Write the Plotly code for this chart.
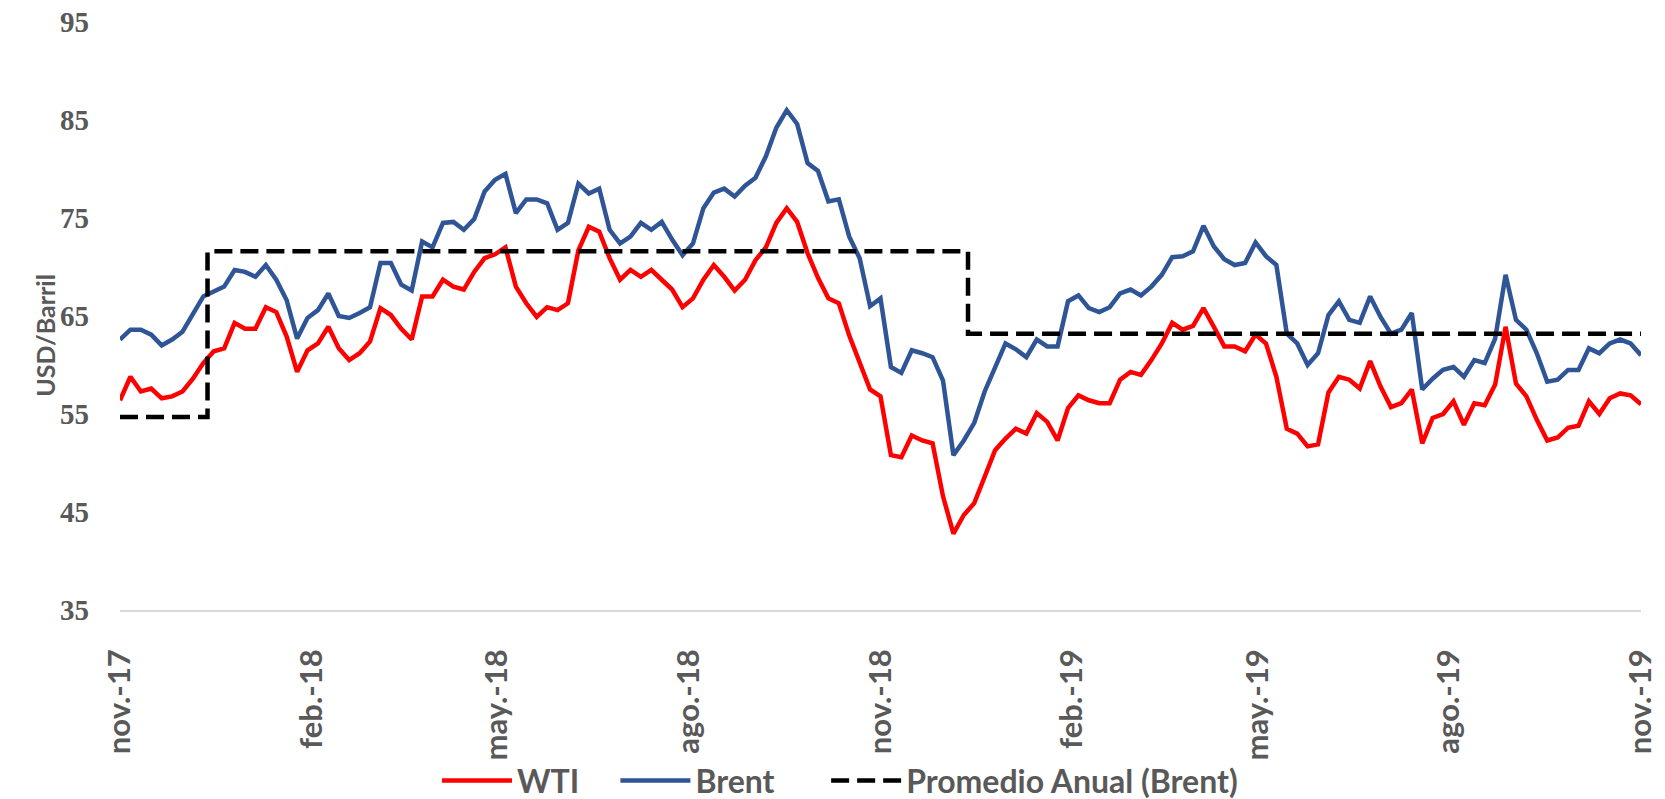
import pandas as pd
import plotly.graph_objects as go

# Sample dates (every 5 days, nov-2017 .. nov-2019)
dates = pd.date_range("2017-11-01", periods=147, freq="5D")

brent = [
    62.6, 63.6, 63.6, 63.1, 62.0, 62.6, 63.4, 65.3, 67.0, 67.5,
    68.0, 69.7, 69.5, 69.0, 70.2, 68.7, 66.6, 62.7, 64.8, 65.6,
    67.3, 65.0, 64.8, 65.3, 65.9, 70.4, 70.4, 68.2, 67.6, 72.6,
    72.0, 74.5, 74.6, 73.8, 74.9, 77.7, 78.9, 79.5, 75.5, 76.9,
    76.9, 76.5, 73.8, 74.5, 78.5, 77.5, 78.0, 73.8, 72.4, 73.1,
    74.5, 73.8, 74.6, 72.8, 71.2, 72.4, 76.0, 77.6, 78.0, 77.2,
    78.3, 79.1, 81.3, 84.2, 86.0, 84.6, 80.6, 79.8, 76.7, 76.9,
    73.1, 70.9, 66.0, 66.8, 59.8, 59.2, 61.5, 61.2, 60.8, 58.4,
    50.8, 52.3, 54.1, 57.3, 59.8, 62.2, 61.6, 60.8, 62.6, 61.9,
    61.9, 66.5, 67.1, 65.8, 65.4, 65.9, 67.3, 67.7, 67.1, 68.0,
    69.2, 71.0, 71.1, 71.6, 74.2, 72.1, 70.8, 70.2, 70.4, 72.5,
    71.1, 70.2, 63.2, 62.2, 60.0, 61.2, 65.1, 66.5, 64.6, 64.3,
    67.0, 64.9, 63.2, 63.6, 65.3, 57.5, 58.6, 59.5, 59.8, 58.8,
    60.5, 60.2, 62.7, 69.2, 64.6, 63.6, 61.2, 58.3, 58.5, 59.5,
    59.5, 61.7, 61.2, 62.2, 62.6, 62.2, 61.0,
]

wti = [
    56.4, 58.8, 57.3, 57.6, 56.6, 56.8, 57.3, 58.6, 60.2, 61.4,
    61.7, 64.3, 63.7, 63.7, 65.9, 65.4, 62.9, 59.3, 61.5, 62.2,
    63.9, 61.7, 60.5, 61.2, 62.4, 65.8, 65.1, 63.7, 62.6, 67.0,
    67.0, 68.7, 68.0, 67.7, 69.5, 70.9, 71.3, 72.0, 68.0, 66.3,
    64.9, 65.9, 65.6, 66.3, 71.7, 74.1, 73.6, 70.9, 68.7, 69.7,
    69.0, 69.7, 68.7, 67.7, 65.9, 66.8, 68.7, 70.2, 69.0, 67.6,
    68.7, 70.7, 72.0, 74.5, 76.0, 74.6, 71.4, 68.9, 66.8, 66.3,
    63.0, 60.4, 57.5, 56.8, 50.8, 50.6, 52.8, 52.3, 52.0, 46.6,
    42.8, 44.7, 45.9, 48.6, 51.3, 52.5, 53.5, 53.0, 55.1, 54.2,
    52.3, 55.6, 56.9, 56.4, 56.1, 56.1, 58.5, 59.3, 59.0, 60.5,
    62.2, 64.3, 63.6, 64.0, 65.8, 63.9, 61.9, 61.9, 61.4, 63.1,
    62.2, 58.8, 53.5, 53.0, 51.7, 51.9, 57.2, 58.8, 58.5, 57.6,
    60.4, 57.8, 55.7, 56.1, 57.5, 52.0, 54.6, 55.0, 56.3, 53.9,
    56.1, 55.9, 58.0, 63.9, 58.1, 56.8, 54.4, 52.3, 52.6, 53.6,
    53.8, 56.3, 55.0, 56.6, 57.1, 56.9, 56.0,
]

# Annual average of Brent (step line)
avg_dates = ["2017-11-01", "2017-12-13", "2018-12-13", "2019-11-01"]
avg_values = [54.7, 71.6, 63.2, 63.2]

tick_dates = ["2017-11-01", "2018-02-01", "2018-05-01", "2018-08-01", "2018-11-01",
              "2019-02-01", "2019-05-01", "2019-08-01", "2019-11-01"]
tick_labels = ["nov.-17", "feb.-18", "may.-18", "ago.-18", "nov.-18",
               "feb.-19", "may.-19", "ago.-19", "nov.-19"]

GRAY = "#595959"
NB = "\u00a0"

fig = go.Figure()
fig.add_trace(go.Scatter(x=dates, y=wti, name="WTI" + NB * 4, mode="lines",
                         line=dict(color="#FF0000", width=4.5)))
fig.add_trace(go.Scatter(x=dates, y=brent, name="Brent" + NB * 6, mode="lines",
                         line=dict(color="#2F5597", width=4.5)))
fig.add_trace(go.Scatter(x=avg_dates, y=avg_values, name="Promedio Anual (Brent)",
                         mode="lines", line=dict(color="black", width=4.5, dash="18px,8px", shape="hv")))

fig.update_layout(
    width=1665, height=799,
    margin=dict(l=120, r=24, t=22, b=189, autoexpand=False),
    paper_bgcolor="white", plot_bgcolor="white",
    showlegend=True,
    legend=dict(orientation="h", x=0.2084, xanchor="left", y=-0.337, yanchor="bottom",
                font=dict(family="Lato", size=32, color=GRAY, weight="bold"),
                itemwidth=70, bgcolor="rgba(0,0,0,0)"),
    annotations=[dict(text="<b>USD/Barril</b>", xref="paper", yref="paper",
                      x=-0.0605, y=0.468, textangle=-90, showarrow=False,
                      font=dict(family="Lato", size=25, color=GRAY))],
)

fig.update_xaxes(type="date", range=["2017-11-01", "2019-11-01"],
                 tickvals=tick_dates, ticktext=tick_labels, tickangle=-90,
                 tickfont=dict(family="Lato", size=31, color=GRAY, weight="bold"),
                 showgrid=False, showline=True, linecolor="#d9d9d9", linewidth=1.5,
                 ticks="", ticklabelstandoff=25, zeroline=False, automargin=False,
                 ticklabeloverflow="allow")
fig.update_yaxes(range=[35, 95], tickvals=[35, 45, 55, 65, 75, 85, 95],
                 tickfont=dict(family="Liberation Serif", size=29, color=GRAY, weight="bold"),
                 showgrid=False, showline=False, zeroline=False, ticks="",
                 ticklabelstandoff=30, automargin=False, ticklabeloverflow="allow")

# remove the default 8px page margin so the figure fills the window exactly
fig.write_html("out.html", config={"displayModeBar": False},
               post_script="document.body.style.margin='0';")
